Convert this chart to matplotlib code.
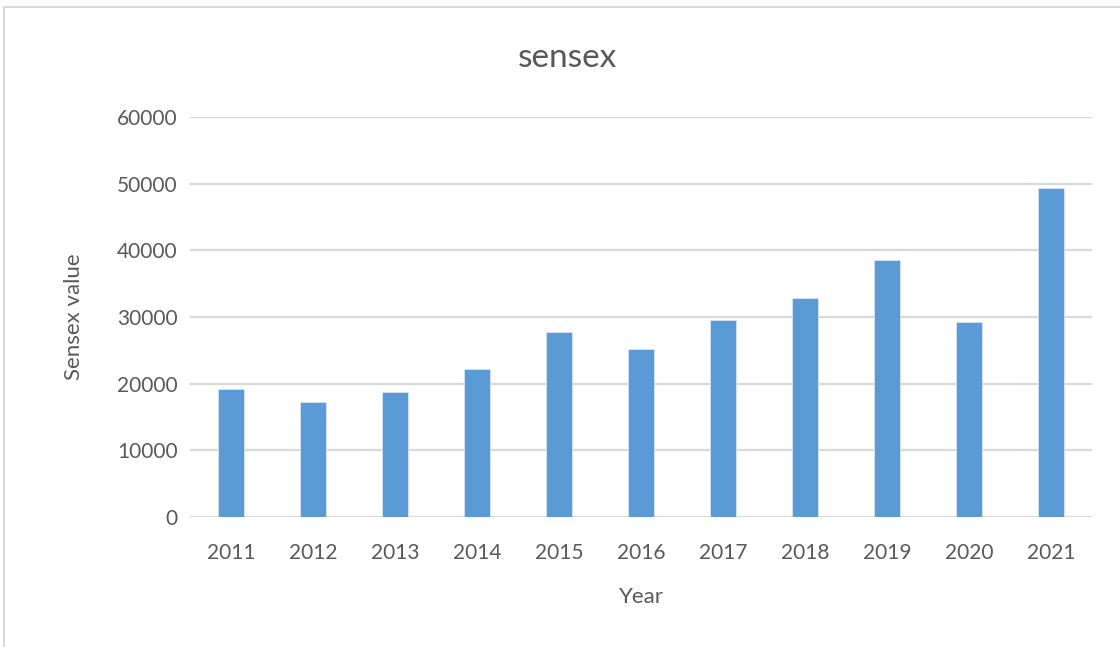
import matplotlib.pyplot as plt
from matplotlib.patches import Rectangle

years = ['2011', '2012', '2013', '2014', '2015', '2016', '2017', '2018', '2019', '2020', '2021']
sensex = [19130, 17280, 18780, 22180, 27790, 25190, 29490, 32900, 38510, 29290, 49420]
yticks = [0, 10000, 20000, 30000, 40000, 50000, 60000]

plt.rcParams['font.family'] = ['Lato', 'DejaVu Sans']
grey = '#595959'

fig = plt.figure(figsize=(11.2, 6.47), dpi=100)
W, H = 1120, 647
ax = fig.add_axes([190 / W, 1 - 517 / H, 902 / W, 400 / H])

x = range(len(years))
ax.bar(x, sensex, width=0.31, color='#5b9bd5', edgecolor='#d6e6f5', linewidth=0.6, zorder=3)
ax.set_xlim(-0.5, len(years) - 0.5)
ax.set_ylim(0, 60000)
ax.set_yticks(yticks)
ax.set_xticks(list(x))
ax.set_xticklabels(years)
ax.grid(axis='y', color='#d9d9d9', linewidth=1.6, zorder=0)
for s in ax.spines.values():
    s.set_visible(False)
ax.tick_params(length=0, colors=grey, labelsize=15)
ax.tick_params(axis='y', pad=9)
ax.tick_params(axis='x', pad=19)

ax.set_xlabel('Year', fontsize=16, color=grey, labelpad=17)
ax.set_ylabel('Sensex value', fontsize=16, color=grey, labelpad=24)
fig.text(567 / W, 1 - 58 / H, 'sensex', ha='center', va='center', fontsize=24, color=grey)

# chart frame
fig.patches.append(Rectangle((4 / W, -0.1), 1.2, 1 - 7 / H + 0.1, transform=fig.transFigure,
                             fill=False, edgecolor='#d9d9d9', linewidth=1.5))

plt.savefig('out.png', dpi=100)
